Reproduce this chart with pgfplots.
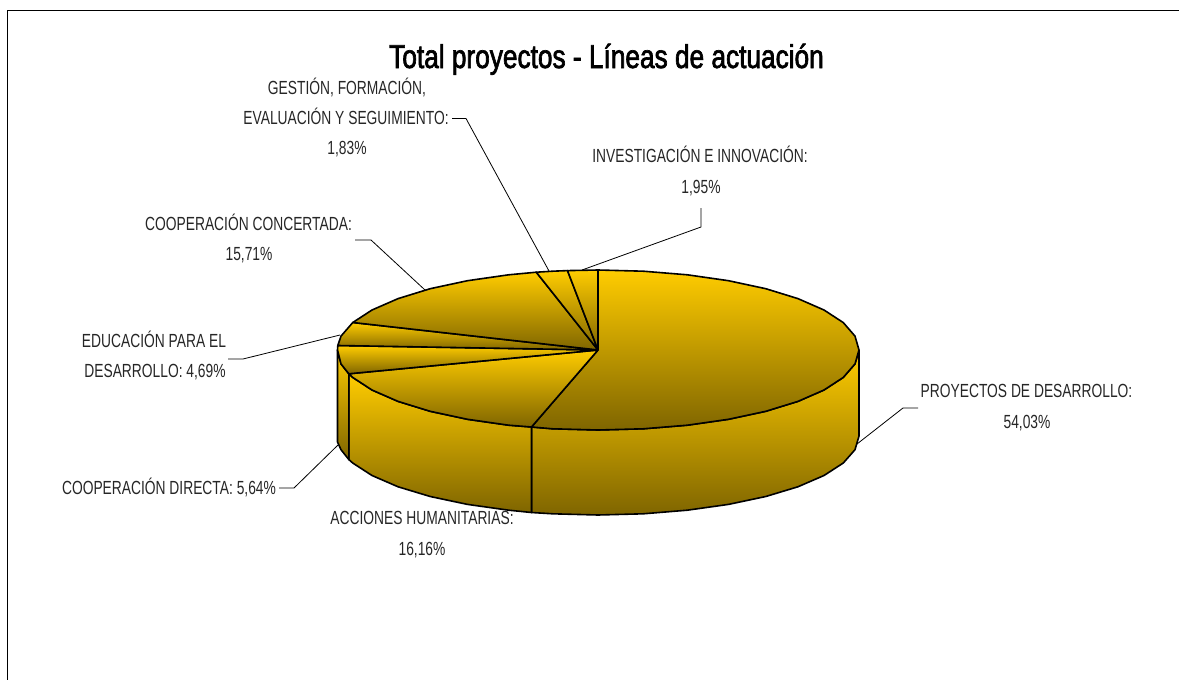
\documentclass[border=0pt]{standalone}
\usepackage{pgfplots}
\pgfplotsset{compat=1.18}
\usepackage{fontspec}
\setmainfont{Liberation Sans}[FakeStretch=0.8]
\newfontfamily\labfont{Liberation Sans}[FakeStretch=0.727]
\newfontfamily\titlefont{Liberation Sans}[FakeStretch=0.795,FakeBold=2]
\definecolor{goldA}{HTML}{FFCC00}
\definecolor{goldB}{HTML}{7F6500}
\tikzset{
  slice/.style={draw=black,line width=1.6pt,line join=round,top color=goldA,bottom color=goldB},
  leader/.style={draw=black,line width=0.8pt},
  lab/.style={anchor=base,inner sep=0pt,text=black!85,font=\labfont\fontsize{19}{19}\selectfont},
}
\begin{document}
\begin{tikzpicture}
\path[use as bounding box] (0,0) rectangle (1179pt,680pt);
\begin{axis}[
  at={(0,0)},anchor=south west,
  scale only axis,width=1179pt,height=680pt,
  xmin=0,xmax=1179,ymin=0,ymax=680,y dir=reverse,
  hide axis,clip=false,
  every axis plot/.append style={forget plot},
]
% frame
\addplot[draw=black,line width=1pt] coordinates {(7.5,680)(7.5,10.5)(1179,10.5)};

% side faces
\addplot[slice] coordinates {(859,350)(855,363.9)(843.3,377.4)(824,390)(797.9,401.4)(765.8,411.3)(728.5,419.3)(687.3,425.2)(643.3,428.8)(598,430)(552.7,428.8)(531.5,427)
 (531.5,512.5)(552.7,513.8)(598,515)(643.3,513.8)(687.3,510.2)(728.5,504.4)(765.8,496.5)(797.9,486.8)(824,475.5)(843.3,463)(855,449.7)(859,436)(859,350)};
\addplot[slice] coordinates {(531.5,427)(508.7,425.2)(467.5,419.3)(430.2,411.3)(398.1,401.4)(372,390)(352.7,377.4)(348.8,373.8)
 (348.8,459.5)(352.7,463)(372,475.5)(398.1,486.8)(430.2,496.5)(467.5,504.4)(508.7,510.2)(531.5,512.5)(531.5,427)};
\addplot[slice] coordinates {(348.8,373.8)(341,363.9)(337.5,350)(337.5,442)(341,449.7)(348.8,459.5)(348.8,373.8)};

% top faces
% PROYECTOS DE DESARROLLO 54,03
\addplot[slice] coordinates {(598,350)(598,270)(643.3,271.2)(687.3,274.8)(728.5,280.7)(765.8,288.7)(797.9,298.6)(824,310)(843.3,322.6)(855,336.1)(859,350)(855,363.9)(843.3,377.4)(824,390)(797.9,401.4)(765.8,411.3)(728.5,419.3)(687.3,425.2)(643.3,428.8)(598,430)(552.7,428.8)(531.5,427)(598,350)};
% ACCIONES HUMANITARIAS 16,16
\addplot[slice] coordinates {(598,350)(531.5,427)(508.7,425.2)(467.5,419.3)(430.2,411.3)(398.1,401.4)(372,390)(352.7,377.4)(348.8,373.8)(598,350)};
% COOPERACION DIRECTA 5,64
\addplot[slice] coordinates {(598,350)(348.8,373.8)(341,363.9)(337.5,350)(337.8,345.5)(598,350)};
% EDUCACION PARA EL DESARROLLO 4,69
\addplot[slice] coordinates {(598,350)(337.8,345.5)(341,336.1)(352.8,322.5)(598,350)};
% COOPERACION CONCERTADA 15,71
\addplot[slice] coordinates {(598,350)(352.8,322.5)(372,310)(398.1,298.6)(430.2,288.7)(467.5,280.7)(508.7,274.8)(536.3,272.2)(598,350)};
% GESTION 1,83
\addplot[slice] coordinates {(598,350)(536.3,272.2)(552.7,271.2)(567.5,270.6)(598,350)};
% INVESTIGACION 1,95
\addplot[slice] coordinates {(598,350)(567.5,270.6)(598,270)(598,350)};

% leader lines
\addplot[leader] coordinates {(452,118.5)(466,118.5)(549,271)};
\addplot[leader] coordinates {(701,208)(701,227)(582,270)};
\addplot[leader] coordinates {(355,240)(371,240)(425,290)};
\addplot[leader] coordinates {(228,359)(243,359)(340,335)};
\addplot[leader] coordinates {(279,488)(294,488)(338,445)};
\addplot[leader] coordinates {(918,408)(903,408)(857,444)};

% texts
\node[anchor=base,inner sep=0pt,font=\titlefont\fontsize{33}{33}\selectfont] at (axis cs:606.5,68) {Total proyectos - Líneas de actuación};
\node[lab] at (axis cs:347,94) {GESTIÓN, FORMACIÓN,};
\node[lab] at (axis cs:346,124) {EVALUACIÓN Y SEGUIMIENTO:};
\node[lab] at (axis cs:347,154) {1,83\%};
\node[lab] at (axis cs:248.5,230) {COOPERACIÓN CONCERTADA:};
\node[lab] at (axis cs:249,260) {15,71\%};
\node[lab] at (axis cs:700,162) {INVESTIGACIÓN E INNOVACIÓN:};
\node[lab] at (axis cs:701,193) {1,95\%};
\node[lab] at (axis cs:154,347) {EDUCACIÓN PARA EL};
\node[lab] at (axis cs:155,377) {DESARROLLO: 4,69\%};
\node[lab] at (axis cs:169,494) {COOPERACIÓN DIRECTA: 5,64\%};
\node[lab] at (axis cs:422,524) {ACCIONES HUMANITARIAS:};
\node[lab] at (axis cs:422,555) {16,16\%};
\node[lab] at (axis cs:1026.5,397) {PROYECTOS DE DESARROLLO:};
\node[lab] at (axis cs:1027,428) {54,03\%};
\end{axis}
\end{tikzpicture}
\end{document}
